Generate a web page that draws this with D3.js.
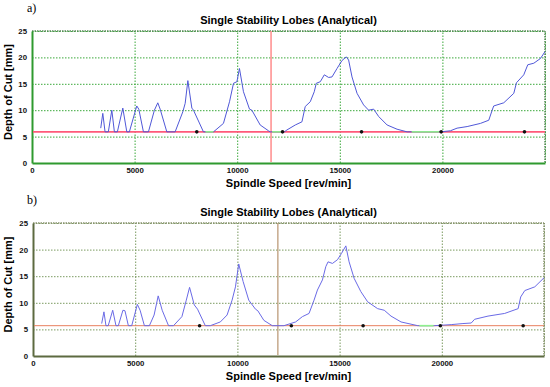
<!DOCTYPE html>
<html lang="en">
<head>
<meta charset="UTF-8">
<title>Single Stability Lobes</title>
<script src="https://cdn.jsdelivr.net/npm/d3@7"></script>
<style>
  body { margin: 0; background: #fff; }
  svg { display: block; }
  .ticklbl { font-family: "Liberation Sans", Arial, sans-serif; font-weight: bold; font-size: 7.8px; }
  .title { font-family: "Liberation Sans", Arial, sans-serif; font-weight: bold; font-size: 11px; }
  .axlbl { font-family: "Liberation Sans", Arial, sans-serif; font-weight: bold; font-size: 11px; }
  .tag { font-family: "Liberation Serif", "DejaVu Serif", serif; font-size: 12px; }
</style>
</head>
<body>
<script>
// ---- data ----
const xTicks = [0, 5000, 10000, 15000, 20000];
const yTicks = [0, 5, 10, 15, 20, 25];
const titleText = "Single Stability Lobes (Analytical)";
const xLabel = "Spindle Speed [rev/min]";
const yLabel = "Depth of Cut [mm]";

// panel a) lobe curve [rpm, depth mm]
const lobesA = [
  [3350,6.6],[3450,9.4],[3560,5.9],[3720,5.9],[3890,10.0],[4015,5.9],[4160,5.9],[4425,10.4],[4620,5.9],
  [4745,5.9],[5105,10.8],[5205,10.2],[5430,5.9],[5675,5.9],[5965,10.0],[6130,11.4],[6245,10.2],[6570,5.9],
  [6975,5.9],[7350,9.7],[7465,11.3],[7595,15.6],[7790,10.4],[7870,10.0],[8355,5.9],[8845,5.9],
  [9330,7.5],[9625,11.6],[9820,15.1],[9985,15.4],[10110,17.9],[10305,13.5],[10600,10.2],[10715,10.0],
  [11120,7.2],[11525,6.1],[11610,5.9],[12300,5.9],[12420,6.25],[12830,7.2],[13155,7.8],[13315,10.7],
  [13560,11.6],[13755,13.5],[13855,15.1],[14050,15.4],[14245,16.7],[14455,16.2],[14620,16.3],[14865,17.9],
  [15105,19.4],[15315,20.1],[15430,19.5],[15595,16.3],[15840,13.2],[16160,11.0],[16405,10.0],[16650,10.2],
  [16895,8.8],[17305,7.2],[17790,6.4],[18280,5.9],[19900,5.9],[20390,6.1],[20715,6.6],[21205,6.9],
  [21855,7.5],[22260,8.1],[22425,10.0],[22500,10.8],[22990,11.4],[23480,13.2],[23610,15.2],[23965,16.7],
  [24160,18.6],[24455,18.9],[24780,19.8],[25000,21.1]
];
const limitA = 5.9;
const markerA = 11650;
const dotsA = [8030, 12210, 16060, 19940, 24000];
const stableA = [[8450, 8840], [11700, 12250], [18500, 19850]];

// panel b) lobe curve [rpm, depth mm]
const lobesB = [
  [3360,6.1],[3470,8.3],[3570,5.7],[3680,5.7],[3900,8.6],[4060,5.7],[4175,5.7],[4400,8.6],[4500,8.5],[4665,5.7],
  [4830,5.7],[5105,9.7],[5240,8.6],[5450,5.7],[5695,5.7],[5925,7.7],[6125,11.3],[6320,8.6],[6630,5.7],
  [6875,5.7],[7285,7.4],[7500,10.5],[7660,12.9],[7890,9.6],[8050,8.8],[8430,5.7],[8675,5.7],
  [9165,6.4],[9495,7.7],[9740,10.5],[9905,13.0],[10065,17.3],[10280,14.0],[10555,10.5],[10885,8.8],
  [11000,8.5],[11295,6.7],[11705,5.7],[12275,5.7],[12850,6.4],[13180,7.4],[13505,8.0],[13750,10.5],
  [13915,12.4],[14160,14.3],[14325,16.8],[14435,17.7],[14650,17.4],[14895,18.1],[15095,19.3],[15305,20.7],
  [15465,17.7],[15710,14.6],[16040,12.1],[16370,10.2],[16860,8.9],[17185,8.6],[17515,7.5],[18005,6.4],
  [18825,5.7],[19640,5.7],[20460,5.9],[21035,6.1],[21440,6.2],[21605,6.9],[22260,7.5],[23075,8.0],
  [23735,8.9],[23860,11.1],[24060,12.3],[24550,13.0],[25000,14.7]
];
const limitB = 5.7;
const markerB = 11980;
const dotsB = [8150, 12640, 16150, 19930, 23980];
const stableB = [[18900, 19600]];

// ---- layout / style per panel ----
const W = 550, H = 387;
const svg = d3.select("body").append("svg").attr("width", W).attr("height", H);

const panels = [
  { tag: "a)", data: lobesA, limit: limitA, marker: markerA, dots: dotsA, stable: stableA,
    left: 32, right: 545, top: 31, bottom: 163, tagY: 12, titleY: 24, xTickY: 173, xLabelY: 187,
    axis: "#2f9a2f", grid: "#3aa83a", frame: "#5a8a5a", limitColor: "#ff5a7a", limitW: 1.6,
    markerColor: "#ff8c8c", markerW: 1.5, curve: "#5058d8" },
  { tag: "b)", data: lobesB, limit: limitB, marker: markerB, dots: dotsB, stable: stableB,
    left: 33, right: 544, top: 223, bottom: 356, tagY: 204, titleY: 216, xTickY: 366, xLabelY: 380,
    axis: "#5d6a40", grid: "#7b9a60", frame: "#8a9470", limitColor: "#e88060", limitW: 1,
    markerColor: "#b89470", markerW: 1.2, curve: "#6a6ae6" }
];

panels.forEach(p => {
  const x = d3.scaleLinear().domain([0, 25000]).range([p.left, p.right]);
  const y = d3.scaleLinear().domain([0, 25]).range([p.bottom, p.top]);
  const g = svg.append("g");

  // grid
  const gy = d3.axisLeft(y).tickValues(yTicks.filter(v => v > 0)).tickSize(-(p.right - p.left)).tickFormat("");
  g.append("g").attr("transform", `translate(${p.left},0)`).call(gy)
    .call(s => s.select(".domain").remove())
    .selectAll("line").attr("stroke", p.grid).attr("stroke-dasharray", "1.5,1.5");
  const gx = d3.axisBottom(x).tickValues(xTicks.filter(v => v > 0).concat([25000])).tickSize(-(p.bottom - p.top)).tickFormat("");
  g.append("g").attr("transform", `translate(0,${p.bottom})`).call(gx)
    .call(s => s.select(".domain").remove())
    .selectAll("line").attr("stroke", p.grid).attr("stroke-dasharray", "1.5,1.5");

  // top / right dotted frame
  g.append("line").attr("x1", p.left).attr("x2", p.right).attr("y1", p.top).attr("y2", p.top)
    .attr("stroke", p.frame).attr("stroke-width", 1.5).attr("stroke-dasharray", "1.5,1");
  g.append("line").attr("x1", p.right).attr("x2", p.right).attr("y1", p.top).attr("y2", p.bottom)
    .attr("stroke", p.frame).attr("stroke-width", 1.5).attr("stroke-dasharray", "1.5,1");

  // axes
  const ax = d3.axisBottom(x).tickValues(xTicks).tickFormat(d3.format("d")).tickSize(0).tickPadding(0);
  const axg = g.append("g").attr("transform", `translate(0,${p.bottom})`).call(ax);
  axg.select(".domain").attr("stroke", p.axis).attr("stroke-width", 2);
  axg.selectAll("text").attr("class", "ticklbl").attr("fill", "#111")
    .attr("dy", null).attr("y", p.xTickY - p.bottom);
  const ay = d3.axisLeft(y).tickValues(yTicks).tickSize(0).tickPadding(5);
  const ayg = g.append("g").attr("transform", `translate(${p.left},0)`).call(ay);
  ayg.select(".domain").attr("stroke", p.axis).attr("stroke-width", 2);
  ayg.selectAll("text").attr("class", "ticklbl").attr("fill", "#111");

  // limit line and marker line
  g.append("line").attr("x1", p.left + 1).attr("x2", p.right).attr("y1", y(p.limit)).attr("y2", y(p.limit))
    .attr("stroke", p.limitColor).attr("stroke-width", p.limitW);
  g.append("line").attr("x1", x(p.marker)).attr("x2", x(p.marker)).attr("y1", p.top).attr("y2", p.bottom - 1)
    .attr("stroke", p.markerColor).attr("stroke-width", p.markerW);

  // lobes
  const line = d3.line().x(d => x(d[0])).y(d => y(d[1]));
  g.append("path").datum(p.data).attr("d", line).attr("fill", "none")
    .attr("stroke", p.curve).attr("stroke-width", 1).attr("stroke-linejoin", "round");

  // stable stretches
  g.selectAll(".stable").data(p.stable).enter().append("line")
    .attr("x1", d => x(d[0])).attr("x2", d => x(d[1]))
    .attr("y1", y(p.limit)).attr("y2", y(p.limit))
    .attr("stroke", "#8ef08e").attr("stroke-width", 1.6);

  // dots
  g.selectAll(".dot").data(p.dots).enter().append("circle")
    .attr("cx", d => x(d)).attr("cy", y(p.limit)).attr("r", 1.8).attr("fill", "#111");

  // texts
  const cx = (p.left + p.right) / 2;
  svg.append("text").attr("class", "tag").attr("x", 27).attr("y", p.tagY).text(p.tag);
  svg.append("text").attr("class", "title").attr("x", cx).attr("y", p.titleY)
    .attr("text-anchor", "middle").text(titleText);
  svg.append("text").attr("class", "axlbl").attr("x", cx).attr("y", p.xLabelY)
    .attr("text-anchor", "middle").text(xLabel);
  svg.append("text").attr("class", "axlbl").attr("text-anchor", "middle")
    .attr("transform", `translate(12,${(p.top + p.bottom) / 2 - 5}) rotate(-90)`).text(yLabel);
});
</script>
</body>
</html>
